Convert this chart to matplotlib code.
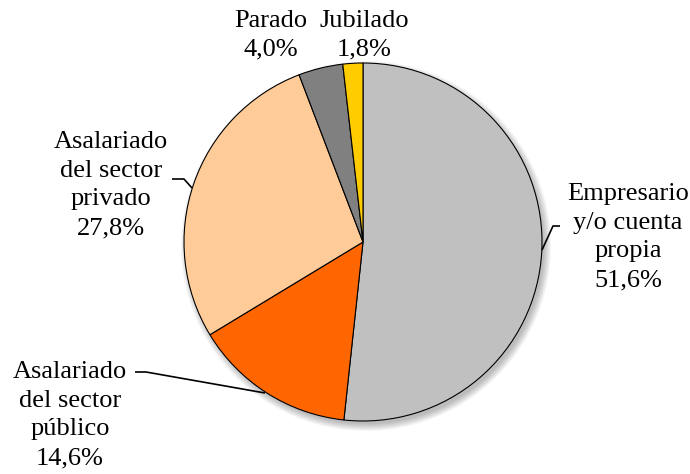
import matplotlib
matplotlib.use("Agg")
import matplotlib.pyplot as plt
from matplotlib.patches import Circle

categories = ["Empresario\ny/o cuenta\npropia", "Asalariado\ndel sector\npúblico",
              "Asalariado\ndel sector\nprivado", "Parado", "Jubilado"]
values = [51.6, 14.6, 27.8, 4.0, 1.8]
colors = ["#C0C0C0", "#FF6600", "#FFCC99", "#808080", "#FFCC00"]

plt.rcParams['font.family'] = 'serif'
plt.rcParams['font.serif'] = ['Liberation Serif', 'DejaVu Serif']

W, H = 690, 474
fig = plt.figure(figsize=(W / 100, H / 100), dpi=100)
ax = fig.add_axes([0, 0, 1, 1])

cx, cy, r = 363, H - 242, 179

# soft drop shadow
for k in range(8):
    ax.add_patch(Circle((cx + 3, cy - 4), r + 6 - k, facecolor='black',
                        edgecolor='none', alpha=0.035, zorder=0))

ax.pie(values, colors=colors, startangle=90, counterclock=False,
       center=(cx, cy), radius=r, frame=True,
       wedgeprops=dict(edgecolor='black', linewidth=0.8, zorder=2))
ax.set_xlim(0, W)
ax.set_ylim(0, H)
ax.set_aspect('equal')
ax.axis('off')

def pct(v):
    return f"{v:.1f}".replace('.', ',') + '%'

fs = 19
ls = 1.41
label_pos = [(628, 237), (70, 415), (111, 185), (271, 35), (364, 35)]
for (x, y), cat, v in zip(label_pos, categories, values):
    ax.text(x, H - y, cat + "\n" + pct(v), ha='center', va='center',
            fontsize=fs, linespacing=ls, color='black', zorder=5)

leaders = [
    [(560, 226), (553, 226), (542, 250)],
    [(172, 179), (184, 179), (192, 188)],
    [(135, 372), (146, 372), (265, 393)],
]
for pts in leaders:
    xs = [p[0] for p in pts]
    ys = [H - p[1] for p in pts]
    ax.plot(xs, ys, color='black', linewidth=1.2, solid_capstyle='butt', zorder=4)

fig.savefig("out.png", dpi=100)
